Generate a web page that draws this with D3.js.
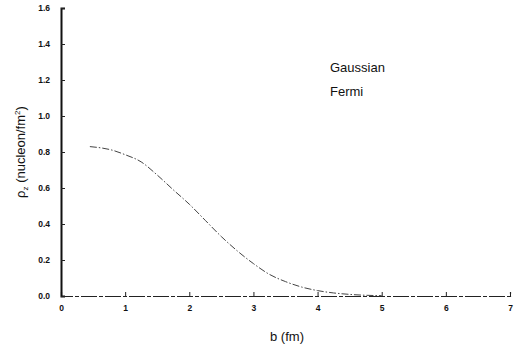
<!DOCTYPE html>
<html><head><meta charset="utf-8">
<script src="https://cdn.jsdelivr.net/npm/d3@7"></script>
<style>body{margin:0;background:#fff}svg{display:block}text{font-family:"Liberation Sans",Arial,sans-serif;fill:#111}</style>
</head><body>
<script>
const bValues = [0.45, 0.8, 1.0, 1.25, 1.5, 1.75, 2.0, 2.25, 2.5, 2.75, 3.0, 3.25, 3.5, 3.75, 4.0, 4.25, 4.5, 4.75, 5.0];
const rhoValues = [0.83, 0.81, 0.785, 0.745, 0.672, 0.59, 0.51, 0.42, 0.33, 0.25, 0.18, 0.12, 0.08, 0.05, 0.03, 0.017, 0.009, 0.004, 0.002];
const xTicks = [0, 1, 2, 3, 4, 5, 6, 7];
const yTicks = [0, 0.2, 0.4, 0.6, 0.8, 1.0, 1.2, 1.4, 1.6];
const legendLabels = ["Gaussian", "Fermi"];

const W = 515, H = 347;
const svg = d3.select("body").append("svg").attr("width", W).attr("height", H);
const x = d3.scaleLinear().domain([0, 7]).range([61, 510]);
const y = d3.scaleLinear().domain([0, 1.6]).range([296, 8]);

// x axis
const xa = svg.append("g").attr("transform", `translate(0,${y(0)})`)
  .call(d3.axisBottom(x).tickValues(xTicks).tickSize(-4).tickPadding(9).tickFormat(d3.format("d")));
xa.select(".domain").attr("stroke", "#222").attr("stroke-width", 1.2).attr("stroke-dasharray", "16,2,4,2");
xa.selectAll(".tick line").attr("stroke", "#222");
xa.selectAll(".tick text").attr("font-size", 8.5).attr("font-weight", "bold").attr("fill", "#111");

// y axis
const ya = svg.append("g").attr("transform", `translate(${x(0)},0)`)
  .call(d3.axisLeft(y).tickValues(yTicks).tickSize(-4).tickPadding(11).tickFormat(d3.format(".1f")));
ya.select(".domain").attr("stroke", "#111").attr("stroke-width", 2);
ya.selectAll(".tick line").attr("stroke", "#222");
ya.selectAll(".tick text").attr("font-size", 8.5).attr("font-weight", "bold").attr("fill", "#111");

// curve
const line = d3.line().x((d, i) => x(bValues[i])).y(d => y(d)).curve(d3.curveMonotoneX);
svg.append("path").datum(rhoValues).attr("d", line)
  .attr("fill", "none").attr("stroke", "#444").attr("stroke-width", 1)
  .attr("stroke-dasharray", "7,2,1.5,2");

// legend
svg.selectAll(".leg").data(legendLabels).enter().append("text")
  .attr("x", 330).attr("y", (d, i) => 72 + i * 24)
  .attr("font-size", 13).text(d => d);

// axis labels
svg.append("text").attr("x", 287).attr("y", 341).attr("text-anchor", "middle")
  .attr("font-size", 13).text("b (fm)");
const yl = svg.append("text").attr("transform", "translate(25,152) rotate(-90)")
  .attr("text-anchor", "middle").attr("font-size", 13);
yl.append("tspan").text("ρ");
yl.append("tspan").attr("font-size", 8).attr("dy", 3).text("z");
yl.append("tspan").attr("dy", -3).text(" (nucleon/fm");
yl.append("tspan").attr("font-size", 8).attr("dy", -5).text("2");
yl.append("tspan").attr("dy", 5).text(")");
</script>
</body></html>
